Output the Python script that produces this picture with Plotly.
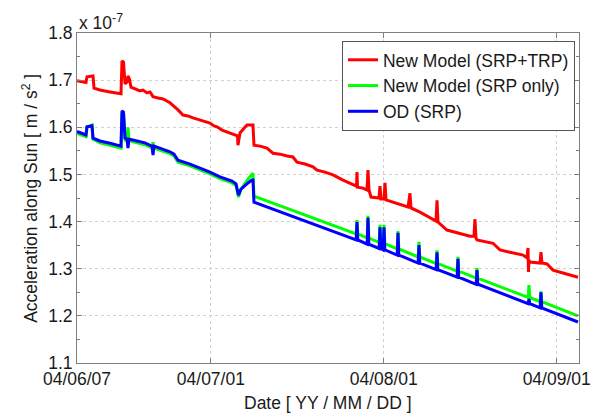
import pandas as pd
import plotly.graph_objects as go

START = "2004-06-07"

# Red: New Model (SRP+TRP)  -- days after 2004-06-07, value in 1e-7 m/s^2
red_days = [0, 1.61, 1.79, 2.69, 2.87, 3.05, 4.12, 5.92, 7.89, 8.07, 8.34, 8.61, 8.96, 9.14,
            9.41, 9.68, 10.76, 11.29, 11.83, 12.55, 13.09, 13.63, 14.52, 15.42, 16.67, 17.39,
            18.11, 19.00, 19.90, 20.80, 22.05, 23.84, 24.56, 25.10, 26.00, 26.89, 28.33, 28.77,
            28.86, 29.04, 29.22, 29.94, 30.48, 31.55, 31.73, 32.81, 34.06, 35.14, 36.39, 37.65,
            38.72, 39.44, 40.88, 42.31, 43.03, 44.46, 45.89, 47.69, 49.48, 50.11, 50.20, 50.29,
            51.27, 51.99, 52.17, 52.35, 52.71, 54.14, 54.32, 54.50, 55.04, 55.22, 55.40, 56.47,
            57.91, 59.34, 59.70, 59.88, 61.49, 63.28, 64.36, 64.54, 64.72, 66.33, 68.13, 70.46,
            71.17, 71.35, 71.53, 71.71, 74.58, 75.83, 77.63, 79.96, 80.67, 80.85, 80.94, 81.03,
            81.21, 83.01, 83.18, 83.36, 84.26, 85.34, 87.13, 88.38, 89.82]
red_vals = [1.699, 1.695, 1.707, 1.710, 1.709, 1.683, 1.679, 1.675, 1.671, 1.741, 1.738, 1.692,
            1.696, 1.709, 1.702, 1.685, 1.679, 1.677, 1.679, 1.673, 1.675, 1.665, 1.662, 1.660,
            1.652, 1.645, 1.637, 1.626, 1.624, 1.620, 1.615, 1.609, 1.603, 1.601, 1.594, 1.590,
            1.584, 1.582, 1.562, 1.577, 1.588, 1.598, 1.605, 1.605, 1.562, 1.560, 1.556, 1.545,
            1.543, 1.539, 1.537, 1.526, 1.522, 1.516, 1.509, 1.505, 1.499, 1.488, 1.478, 1.475,
            1.505, 1.473, 1.471, 1.467, 1.509, 1.467, 1.452, 1.450, 1.475, 1.448, 1.448, 1.482,
            1.446, 1.442, 1.435, 1.431, 1.460, 1.429, 1.420, 1.408, 1.401, 1.445, 1.399, 1.382,
            1.376, 1.369, 1.369, 1.405, 1.365, 1.361, 1.354, 1.340, 1.335, 1.329, 1.323, 1.344,
            1.293, 1.318, 1.314, 1.312, 1.335, 1.312, 1.310, 1.297, 1.291, 1.287, 1.282]

# Green: New Model (SRP only)
green_days = [0, 1.61, 1.79, 2.69, 2.87, 4.12, 5.92, 7.89, 8.07, 8.34, 8.61, 8.96, 9.14, 9.32,
              10.76, 12.19, 13.45, 13.63, 13.80, 15.42, 16.67, 17.39, 18.11, 20.26, 22.05, 23.84,
              25.64, 27.07, 27.79, 28.51, 28.77, 28.95, 29.40, 29.94, 30.66, 31.37, 31.55, 31.73,
              50.05, 50.20, 50.35, 52.02, 52.17, 52.32, 54.17, 54.32, 54.47, 54.89, 55.04, 55.19,
              57.40, 57.55, 57.70, 61.16, 61.31, 61.46, 64.39, 64.54, 64.69, 68.15, 68.30, 68.45,
              71.56, 71.71, 71.86, 80.88, 81.03, 81.18, 83.03, 83.18, 83.33, 89.82]
green_vals = [1.587, 1.580, 1.600, 1.605, 1.575, 1.567, 1.562, 1.556, 1.630, 1.628, 1.573, 1.572,
              1.600, 1.572, 1.567, 1.563, 1.556, 1.568, 1.556, 1.550, 1.544, 1.539, 1.526, 1.518,
              1.510, 1.501, 1.491, 1.486, 1.482, 1.476, 1.463, 1.452, 1.468, 1.478, 1.490, 1.500,
              1.503, 1.454, 1.374, 1.403, 1.374, 1.365, 1.412, 1.365, 1.356, 1.393, 1.356, 1.353,
              1.393, 1.353, 1.342, 1.380, 1.342, 1.325, 1.357, 1.325, 1.311, 1.339, 1.311, 1.295,
              1.325, 1.295, 1.280, 1.301, 1.280, 1.239, 1.265, 1.239, 1.230, 1.252, 1.230, 1.200]

# Blue: OD (SRP)
blue_days = [0, 1.61, 1.79, 2.69, 2.87, 4.12, 5.92, 7.89, 8.07, 8.34, 8.61, 8.96, 9.14, 9.32,
             10.76, 12.19, 13.45, 13.63, 13.80, 15.42, 16.67, 17.39, 18.11, 20.26, 22.05, 23.84,
             25.64, 27.07, 27.79, 28.51, 28.77, 28.95, 29.40, 29.94, 30.66, 31.37, 31.55, 31.73,
             50.05, 50.20, 50.35, 52.02, 52.17, 52.32, 54.17, 54.32, 54.47, 54.89, 55.04, 55.19,
             57.40, 57.55, 57.70, 61.16, 61.31, 61.46, 64.39, 64.54, 64.69, 68.15, 68.30, 68.45,
             71.56, 71.71, 71.86, 80.88, 81.03, 81.18, 83.03, 83.18, 83.33, 89.82]
blue_vals = [1.591, 1.584, 1.601, 1.603, 1.577, 1.571, 1.566, 1.560, 1.635, 1.632, 1.577, 1.575,
             1.556, 1.575, 1.571, 1.567, 1.560, 1.541, 1.560, 1.554, 1.548, 1.543, 1.530, 1.522,
             1.514, 1.505, 1.495, 1.490, 1.486, 1.480, 1.467, 1.456, 1.469, 1.475, 1.482, 1.488,
             1.488, 1.441, 1.361, 1.399, 1.361, 1.352, 1.408, 1.352, 1.343, 1.388, 1.343, 1.340,
             1.388, 1.340, 1.329, 1.376, 1.329, 1.312, 1.350, 1.312, 1.298, 1.335, 1.298, 1.282,
             1.321, 1.282, 1.267, 1.297, 1.267, 1.226, 1.236, 1.226, 1.217, 1.250, 1.217, 1.187]

tick_dates = ["2004-06-07", "2004-07-01", "2004-08-01", "2004-09-01"]
tick_labels = ["04/06/07", "04/07/01", "04/08/01", "04/09/01"]


def to_dates(days):
    return pd.Timestamp(START) + pd.to_timedelta(days, unit="D")


FONT = "Liberation Sans, Arial, Helvetica, sans-serif"
FS = 17.5
TXT = "#1a1a1a"

fig = go.Figure()
fig.add_trace(go.Scatter(x=to_dates(red_days), y=red_vals, mode="lines",
                         name="New Model (SRP+TRP)", line=dict(color="#ff0000", width=3)))
fig.add_trace(go.Scatter(x=to_dates(green_days), y=green_vals, mode="lines",
                         name="New Model (SRP only)", line=dict(color="#00ff00", width=3)))
fig.add_trace(go.Scatter(x=to_dates(blue_days), y=blue_vals, mode="lines",
                         name="OD (SRP)", line=dict(color="#0000ff", width=3)))

axis_common = dict(showline=True, linecolor="#808080", linewidth=1, mirror="allticks",
                   ticks="inside", ticklen=5, tickcolor="#808080",
                   showgrid=True, gridcolor="#d0d0d0", griddash="dot", gridwidth=1,
                   zeroline=False, tickfont=dict(family=FONT, size=FS, color=TXT))

fig.update_xaxes(type="date", range=[pd.Timestamp(START), pd.Timestamp(START) + pd.Timedelta(days=90)],
                 tickmode="array", tickvals=tick_dates, ticktext=tick_labels, **axis_common)
fig.update_yaxes(range=[1.1, 1.8], tickmode="linear", tick0=1.1, dtick=0.1, tickformat=".1f",
                 minor=dict(ticks="inside", ticklen=3, dtick=0.05, tick0=1.1,
                            tickcolor="#808080", showgrid=False),
                 **axis_common)

fig.update_layout(
    width=609, height=420,
    margin=dict(l=77, r=30, t=33, b=57),
    plot_bgcolor="white", paper_bgcolor="white",
    font=dict(family=FONT, size=FS, color=TXT),
    legend=dict(x=0.992, y=0.976, xanchor="right", yanchor="top",
                bgcolor="white", bordercolor="#555555", borderwidth=1,
                font=dict(family=FONT, size=FS, color=TXT)),
    showlegend=True,
    annotations=[
        dict(text="x 10<sup>-7</sup>", xref="paper", yref="paper", x=0, y=1,
             xanchor="left", yanchor="bottom", showarrow=False, yshift=-2,
             font=dict(family=FONT, size=FS, color=TXT)),
        dict(text="Acceleration along Sun [ m / s<sup>2</sup> ]", xref="paper", yref="paper",
             x=-0.094, y=0.5, xanchor="center", yanchor="middle", textangle=-90,
             showarrow=False, font=dict(family=FONT, size=FS, color=TXT)),
        dict(text="Date [ YY / MM / DD ]", xref="paper", yref="paper", x=0.5, y=-0.121,
             xanchor="center", yanchor="middle", showarrow=False,
             font=dict(family=FONT, size=FS, color=TXT)),
    ],
)

fig.write_html("out.html")
